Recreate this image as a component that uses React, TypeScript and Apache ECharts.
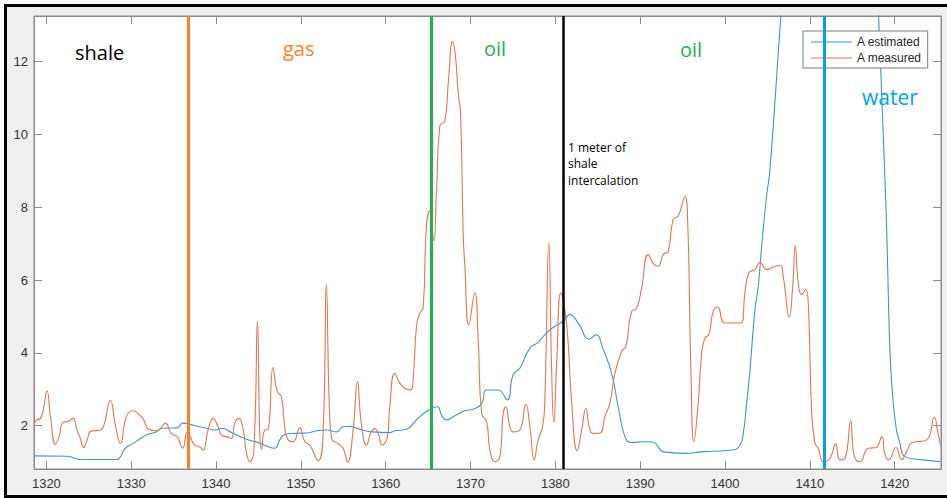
import React, { useEffect, useRef } from "react";
import * as echarts from "echarts";

const xTicks = [1320, 1330, 1340, 1350, 1360, 1370, 1380, 1390, 1400, 1410, 1420];
const yTicks = [2, 4, 6, 8, 10, 12];

const measuredX = [
  1318.55, 1318.8, 1319.3, 1319.65, 1320.07, 1320.5, 1321.06, 1321.5, 1321.96, 1322.63, 1323.14, 1323.6, 1324.0, 1324.4, 1324.8,
  1325.26, 1326.37, 1326.76, 1327.55, 1328.14, 1328.73, 1329.43, 1330.2, 1331.0, 1331.47, 1332.06, 1333.04, 1334.03, 1334.7, 1335.4,
  1336.07, 1336.58, 1336.9, 1337.45, 1338.08, 1338.47, 1339.06, 1339.65, 1340.24, 1340.64, 1341.23, 1341.8, 1342.2, 1342.7, 1343.2,
  1343.6, 1343.97, 1344.45, 1344.88, 1345.15, 1345.35, 1345.74, 1346.13, 1346.72, 1347.2, 1347.7, 1348.1, 1348.5, 1349.08, 1349.87,
  1350.46, 1351.05, 1352.03, 1352.62, 1353.0, 1353.33, 1353.61, 1354.39, 1354.98, 1355.5, 1356.16, 1356.67, 1357.15, 1357.74, 1358.24,
  1358.71, 1359.1, 1359.58, 1360.21, 1360.48, 1361.07, 1361.66, 1362.25, 1362.96, 1363.23, 1363.63, 1364.02, 1364.41, 1364.8, 1365.2,
  1365.67, 1366.0, 1366.38, 1366.97, 1367.4, 1367.88, 1368.2, 1368.54, 1368.82, 1369.13, 1369.33, 1369.8, 1370.5, 1370.9, 1371.3,
  1371.89, 1372.28, 1372.87, 1373.46, 1373.85, 1374.16, 1374.63, 1375.02, 1375.81, 1376.52, 1377.0, 1377.5, 1377.97, 1378.49, 1378.76,
  1379.23, 1379.55, 1379.82, 1380.14, 1380.65, 1381.12, 1381.51, 1381.9, 1382.57, 1383.09, 1383.6, 1383.99, 1384.39, 1385.25, 1385.84,
  1386.43, 1387.02, 1387.81, 1388.31, 1388.99, 1389.58, 1390.17, 1390.94, 1391.62, 1392.12, 1392.71, 1393.3, 1393.89, 1394.48, 1395.27,
  1395.59, 1395.98, 1396.33, 1396.84, 1397.24, 1397.63, 1398.1, 1398.61, 1399.13, 1399.99, 1401.88, 1402.35, 1402.82, 1403.53, 1404.12,
  1404.9, 1405.69, 1406.48, 1406.86, 1407.57, 1407.97, 1408.28, 1408.63, 1409.03, 1409.5, 1409.81, 1410.21, 1410.6, 1411.0, 1411.58,
  1412.37, 1413.04, 1413.55, 1414.14, 1414.81, 1415.2, 1415.9, 1416.89, 1417.8, 1418.47, 1418.86, 1419.3, 1420.15, 1420.83, 1421.42,
  1422.0, 1423.77, 1424.67, 1425.1, 1425.4,
];
const measuredY = [
  2.02, 2.15, 2.2, 2.45, 2.96, 2.2, 1.49, 1.7, 2.09, 2.12, 2.2, 1.88, 1.65, 1.4, 1.6,
  1.85, 1.88, 2.0, 2.7, 2.0, 1.51, 2.25, 2.41, 2.29, 2.16, 1.9, 1.86, 2.07, 1.79, 1.7,
  1.38, 1.81, 1.72, 1.47, 1.42, 1.33, 1.88, 2.2, 1.97, 1.74, 1.7, 1.65, 2.07, 2.2, 1.88,
  1.24, 1.01, 1.3, 4.87, 1.79, 1.35, 1.88, 1.9, 3.6, 2.94, 2.8, 1.97, 1.61, 1.56, 1.94,
  1.56, 1.47, 1.04, 1.79, 5.9, 2.71, 1.65, 1.51, 1.38, 1.0, 1.88, 3.21, 2.0, 1.47, 1.8,
  1.92, 1.8, 1.47, 1.7, 2.52, 3.44, 3.17, 3.03, 2.98, 3.26, 4.73, 5.1, 5.23, 7.48, 7.9,
  7.07, 8.5, 10.24, 10.37, 11.5, 12.55, 12.2, 11.16, 10.6, 7.3, 6.38, 4.77, 5.65, 4.36, 2.34,
  2.11, 1.33, 1.01, 1.15, 2.34, 2.52, 1.97, 1.83, 1.88, 2.59, 1.97, 1.06, 1.61, 1.97, 2.71,
  7.04, 3.63, 2.08, 3.63, 5.65, 5.19, 4.27, 2.71, 1.31, 1.88, 2.48, 1.97, 1.79, 1.8, 2.25,
  2.62, 3.44, 4.04, 4.18, 5.14, 5.23, 5.79, 6.7, 6.43, 6.38, 6.7, 6.79, 7.67, 7.76, 8.29,
  7.67, 3.53, 1.56, 2.62, 3.99, 4.41, 4.5, 5.14, 5.26, 4.82, 4.82, 5.65, 6.2, 6.29, 6.49,
  6.29, 6.36, 6.4, 6.1, 4.99, 5.8, 6.95, 5.92, 5.6, 5.74, 5.37, 2.4, 1.52, 1.38, 1.01,
  1.1, 1.5, 1.06, 1.1, 2.14, 1.2, 1.01, 1.38, 1.4, 1.7, 1.2, 1.06, 1.4, 1.07, 1.3,
  1.53, 1.61, 2.23, 1.8, 1.47,
];

const estimatedX = [
  1318.55, 1322.43, 1323.42, 1324.0, 1328.33, 1328.73, 1329.3, 1330.3, 1331.08, 1332.06, 1332.85, 1333.63, 1335.4, 1336.1, 1337.37,
  1338.87, 1340.05, 1340.64, 1342.0, 1343.6, 1345.15, 1345.94, 1346.92, 1347.51, 1348.1, 1349.48, 1350.66, 1351.84, 1353.0, 1354.2,
  1354.98, 1355.77, 1356.75, 1358.33, 1360.48, 1361.07, 1362.45, 1363.63, 1364.8, 1366.1, 1366.58, 1367.17, 1368.15, 1369.33, 1370.31,
  1371.3, 1371.89, 1373.26, 1374.32, 1375.02, 1375.81, 1377.0, 1377.97, 1378.96, 1379.94, 1380.92, 1381.71, 1382.69, 1383.99, 1384.78,
  1385.64, 1386.63, 1387.41, 1388.2, 1388.99, 1390.36, 1391.53, 1392.24, 1392.71, 1395.27, 1397.24, 1400.97, 1401.76, 1402.15, 1402.55,
  1402.94, 1403.53, 1403.92, 1404.32, 1404.9, 1405.3, 1406.59, 1408.0, 1412.0, 1417.5, 1418.1, 1418.94, 1419.17, 1419.37, 1419.65,
  1420.15, 1420.62, 1421.2, 1423.37, 1425.4,
];
const estimatedY = [
  1.17, 1.16, 1.1, 1.07, 1.07, 1.15, 1.38, 1.52, 1.65, 1.77, 1.82, 1.93, 1.94, 2.07, 2.01,
  1.93, 1.88, 1.93, 1.79, 1.63, 1.52, 1.44, 1.38, 1.61, 1.76, 1.79, 1.8, 1.86, 1.88, 1.83,
  1.97, 1.98, 1.92, 1.83, 1.81, 1.86, 1.9, 2.16, 2.39, 2.52, 2.29, 2.16, 2.27, 2.41, 2.45,
  2.6, 2.98, 2.98, 2.71, 3.4, 3.58, 4.13, 4.29, 4.55, 4.73, 4.87, 5.05, 4.82, 4.38, 4.5,
  4.09, 3.44, 2.52, 1.7, 1.54, 1.56, 1.55, 1.38, 1.28, 1.24, 1.28, 1.33, 1.47, 1.79, 2.62,
  3.53, 5.19, 5.83, 6.93, 8.31, 9.04, 13.26, 17.4, 20, 16.9, 13.26, 8.22, 6.38, 4.55, 3.17,
  1.97, 1.52, 1.15, 1.06, 1.01,
];

const zoneDepths = [1336.74, 1365.32, 1380.92, 1411.75];
const zoneColors = ["#FF7F27", "#22B14C", "#000000", "#00A2E8"];

const X_MIN = 1318.54;
const X_MAX = 1425.46;
const Y_MIN = 0.81;
const Y_MAX = 13.255;

const AXIS_GRAY = "#8a8a8a";
const LABEL_COLOR = "#333333";
const BLUE = "#3f93d4";
const ORANGE = "#e27750";

export default function App() {
  const ref = useRef<HTMLDivElement>(null);

  useEffect(() => {
    if (!ref.current) return;
    const chart = echarts.init(ref.current, undefined, { renderer: "svg" });

    const measured = measuredX.map((x, i) => [x, measuredY[i]]);
    const estimated = estimatedX.map((x, i) => [x, estimatedY[i]]);

    const baseAxisLine = { show: true, lineStyle: { color: AXIS_GRAY, width: 1 } };
    const annotFont = '"Open Sans", sans-serif';
    const labelFont = '"Liberation Sans", Arial, sans-serif';

    chart.setOption({
      animation: false,
      backgroundColor: "#f0f0f0",
      grid: {
        left: 34,
        top: 16,
        width: 907,
        height: 453,
        show: true,
        backgroundColor: "#ffffff",
        borderColor: AXIS_GRAY,
        borderWidth: 1,
      },
      xAxis: [
        {
          type: "value",
          position: "bottom",
          min: X_MIN,
          max: X_MAX,
          axisLine: baseAxisLine,
          axisTick: { show: true, inside: true, length: 8, customValues: xTicks, lineStyle: { color: AXIS_GRAY } },
          axisLabel: {
            show: true,
            customValues: xTicks,
            formatter: (v: number) => String(Math.round(v)),
            color: LABEL_COLOR,
            fontSize: 13,
            fontFamily: labelFont,
            margin: 8,
          },
          splitLine: { show: false },
        },
        {
          type: "value",
          position: "top",
          min: X_MIN,
          max: X_MAX,
          axisLine: baseAxisLine,
          axisTick: { show: true, inside: true, length: 8, customValues: xTicks, lineStyle: { color: AXIS_GRAY } },
          axisLabel: { show: false },
          splitLine: { show: false },
        },
      ],
      yAxis: [
        {
          type: "value",
          position: "left",
          min: Y_MIN,
          max: Y_MAX,
          axisLine: baseAxisLine,
          axisTick: { show: true, inside: true, length: 8, customValues: yTicks, lineStyle: { color: AXIS_GRAY } },
          axisLabel: {
            show: true,
            customValues: yTicks,
            formatter: (v: number) => String(Math.round(v)),
            color: LABEL_COLOR,
            fontSize: 13,
            fontFamily: labelFont,
            margin: 6,
          },
          splitLine: { show: false },
        },
        {
          type: "value",
          position: "right",
          min: Y_MIN,
          max: Y_MAX,
          axisLine: baseAxisLine,
          axisTick: { show: true, inside: true, length: 8, customValues: yTicks, lineStyle: { color: AXIS_GRAY } },
          axisLabel: { show: false },
          splitLine: { show: false },
        },
      ],
      legend: {
        data: [
          { name: "A estimated", icon: "rect", itemStyle: { color: BLUE } },
          { name: "A measured", icon: "rect", itemStyle: { color: ORANGE } },
        ],
        orient: "vertical",
        left: 803,
        top: 31,
        backgroundColor: "#ffffff",
        borderColor: "#7a7a7a",
        borderWidth: 1,
        borderRadius: 0,
        padding: [4, 6, 3, 8],
        itemWidth: 41,
        itemHeight: 1.2,
        itemGap: 2,
        textStyle: { fontSize: 12, color: "#262626", fontFamily: labelFont, lineHeight: 14 },
        selectedMode: false,
      },
      series: [
        {
          name: "A estimated",
          type: "line",
          data: estimated,
          showSymbol: false,
          symbol: "none",
          smooth: 0.5,
          clip: true,
          lineStyle: { color: BLUE, width: 1.1 },
          itemStyle: { color: BLUE },
          z: 2,
        },
        {
          name: "A measured",
          type: "line",
          data: measured,
          showSymbol: false,
          symbol: "none",
          smooth: 0.5,
          clip: true,
          lineStyle: { color: ORANGE, width: 1.1 },
          itemStyle: { color: ORANGE },
          z: 3,
        },
        {
          name: "zones",
          type: "line",
          data: [],
          z: 4,
          markLine: {
            silent: true,
            symbol: ["none", "none"],
            label: { show: false },
            emphasis: { disabled: true },
            lineStyle: { type: "solid", width: 3 },
            data: zoneDepths.map((d, i) => ({
              xAxis: d,
              lineStyle: { color: zoneColors[i], width: i === 2 ? 2.5 : 3, type: "solid" },
            })),
          },
        },
      ],
      graphic: [
        {
          type: "text",
          left: 75,
          top: 42,
          style: { text: "shale", fill: "#000000", font: `20px ${annotFont}` },
          z: 10,
        },
        {
          type: "text",
          left: 283,
          top: 38,
          style: { text: "gas", fill: "#FF7F27", font: `20px ${annotFont}` },
          z: 10,
        },
        {
          type: "text",
          left: 484,
          top: 38,
          style: { text: "oil", fill: "#22B14C", font: `20px ${annotFont}` },
          z: 10,
        },
        {
          type: "text",
          left: 680,
          top: 39,
          style: { text: "oil", fill: "#22B14C", font: `20px ${annotFont}` },
          z: 10,
        },
        {
          type: "text",
          left: 862,
          top: 86,
          style: { text: "water", fill: "#00A2E8", font: `21px ${annotFont}` },
          z: 10,
        },
        {
          type: "text",
          left: 568,
          top: 139,
          style: {
            text: "1 meter of\nshale\nintercalation",
            fill: "#000000",
            font: `12px ${annotFont}`,
            lineHeight: 16.5,
          },
          z: 10,
        },
        {
          type: "rect",
          shape: { x: 2, y: 2, width: 950, height: 494 },
          style: { fill: "none", stroke: "#ffffff", lineWidth: 4 },
          silent: true,
          z: 20,
        },
        {
          type: "rect",
          shape: { x: 5.5, y: 5.5, width: 950, height: 491 },
          style: { fill: "none", stroke: "#000000", lineWidth: 3 },
          silent: true,
          z: 21,
        },
      ],
    });

    return () => chart.dispose();
  }, []);

  return (
    <div
      ref={ref}
      style={{ position: "fixed", left: 0, top: 0, width: 947, height: 498 }}
    />
  );
}
